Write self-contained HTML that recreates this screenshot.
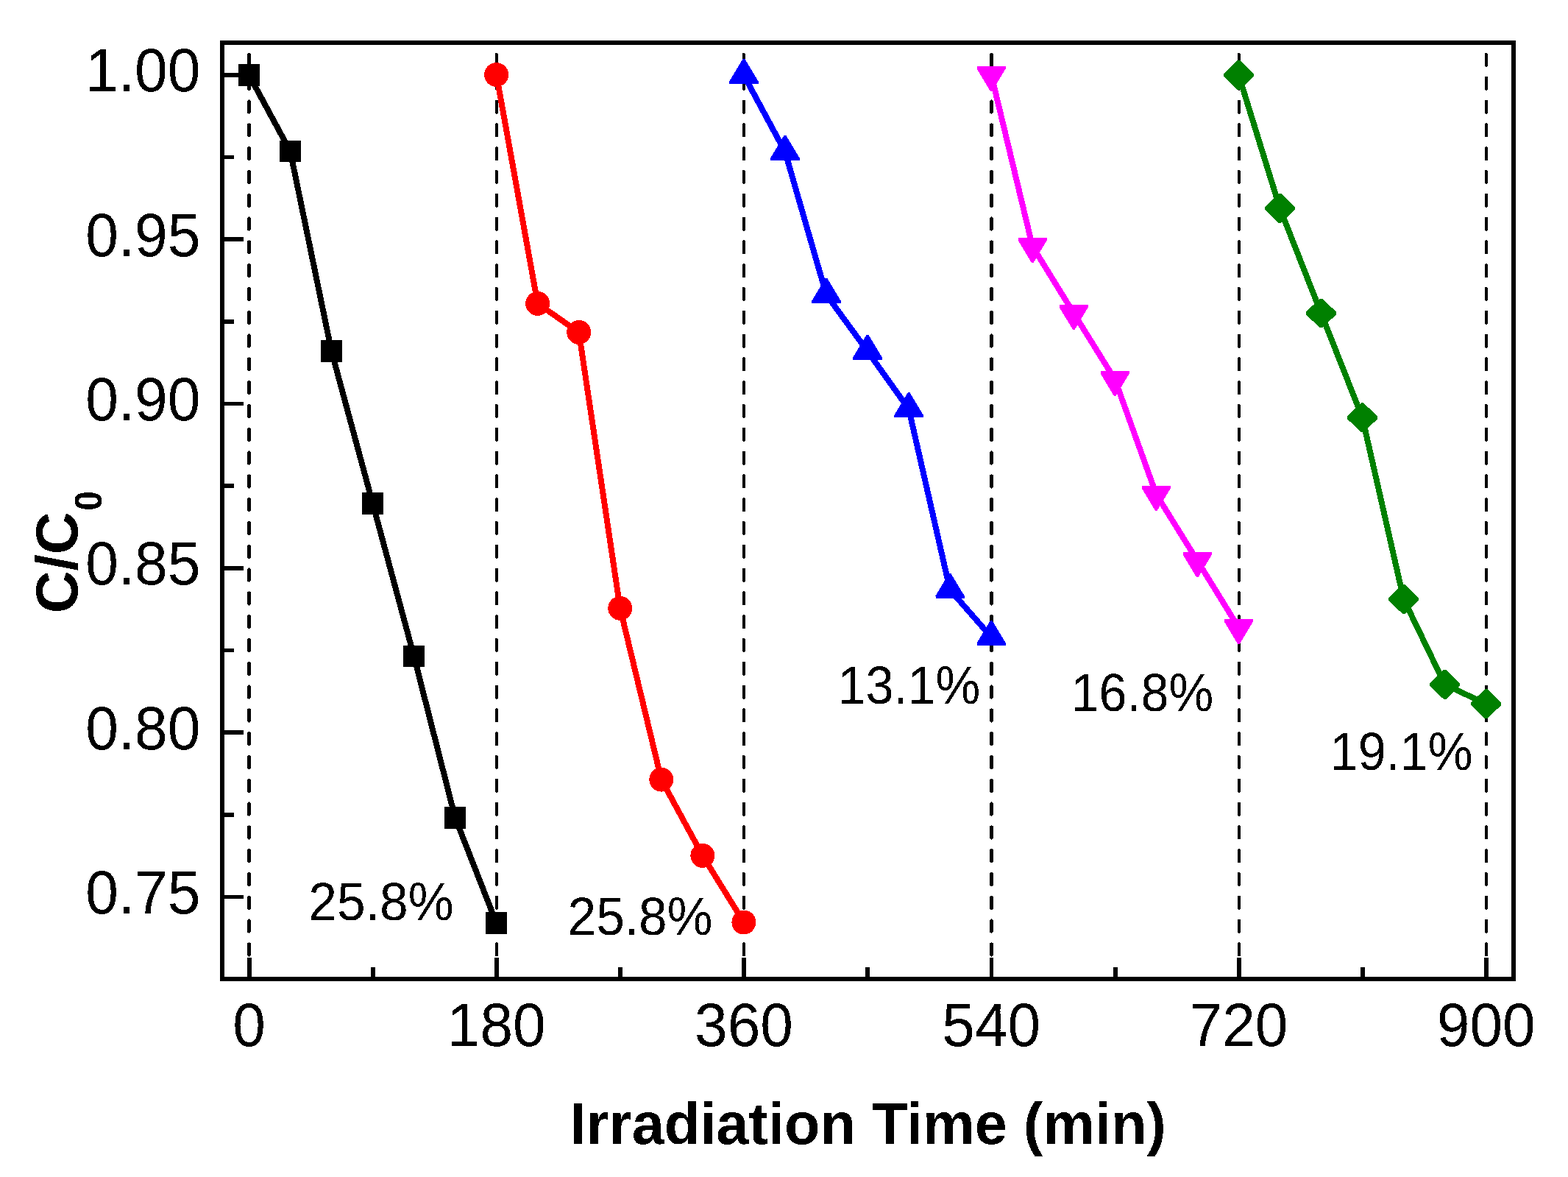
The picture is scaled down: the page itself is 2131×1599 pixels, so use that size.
<!DOCTYPE html>
<html><head><meta charset="utf-8"><title>C/C0 vs Irradiation Time</title>
<style>html,body{margin:0;padding:0;background:#fff;overflow:hidden;}svg{display:block;}text{font-family:"Liberation Sans",Arial,sans-serif;fill:#000;}</style></head><body>
<svg width="2131" height="1599" viewBox="0 0 2131 1599">
<rect x="0" y="0" width="2131" height="1599" fill="#fff"/>
<defs><filter id="bin" x="0" y="0" width="100%" height="100%" filterUnits="userSpaceOnUse" color-interpolation-filters="sRGB"><feComponentTransfer><feFuncA type="discrete" tableValues="0 1"/></feComponentTransfer></filter></defs>
<g shape-rendering="crispEdges">
<g stroke="#000" stroke-linecap="round" fill="none">
<line x1="338.50" y1="74.20" x2="338.50" y2="1329.90" stroke-width="4.8" stroke-dasharray="14.50 17.30"/>
<line x1="675.00" y1="73.70" x2="675.00" y2="1329.90" stroke-width="3.8" stroke-dasharray="15.50 16.30"/>
<line x1="1011.00" y1="73.70" x2="1011.00" y2="1329.90" stroke-width="3.8" stroke-dasharray="15.50 16.30"/>
<line x1="1347.50" y1="74.20" x2="1347.50" y2="1329.90" stroke-width="4.8" stroke-dasharray="14.50 17.30"/>
<line x1="1684.00" y1="73.70" x2="1684.00" y2="1329.90" stroke-width="3.8" stroke-dasharray="15.50 16.30"/>
<line x1="2020.00" y1="73.70" x2="2020.00" y2="1329.90" stroke-width="3.8" stroke-dasharray="15.50 16.30"/>
</g>
<g stroke="#000" stroke-width="5.8" fill="none">
<line x1="302.00" y1="101.90" x2="331.00" y2="101.90"/>
<line x1="302.00" y1="213.55" x2="318.00" y2="213.55"/>
<line x1="302.00" y1="325.20" x2="331.00" y2="325.20"/>
<line x1="302.00" y1="436.85" x2="318.00" y2="436.85"/>
<line x1="302.00" y1="548.50" x2="331.00" y2="548.50"/>
<line x1="302.00" y1="660.15" x2="318.00" y2="660.15"/>
<line x1="302.00" y1="771.80" x2="331.00" y2="771.80"/>
<line x1="302.00" y1="883.45" x2="318.00" y2="883.45"/>
<line x1="302.00" y1="995.10" x2="331.00" y2="995.10"/>
<line x1="302.00" y1="1106.75" x2="318.00" y2="1106.75"/>
<line x1="302.00" y1="1218.40" x2="331.00" y2="1218.40"/>
<line x1="338.75" y1="1329.90" x2="338.75" y2="1300.90"/>
<line x1="506.88" y1="1329.90" x2="506.88" y2="1313.90"/>
<line x1="675.00" y1="1329.90" x2="675.00" y2="1300.90"/>
<line x1="843.12" y1="1329.90" x2="843.12" y2="1313.90"/>
<line x1="1011.25" y1="1329.90" x2="1011.25" y2="1300.90"/>
<line x1="1179.38" y1="1329.90" x2="1179.38" y2="1313.90"/>
<line x1="1347.50" y1="1329.90" x2="1347.50" y2="1300.90"/>
<line x1="1515.62" y1="1329.90" x2="1515.62" y2="1313.90"/>
<line x1="1683.75" y1="1329.90" x2="1683.75" y2="1300.90"/>
<line x1="1851.88" y1="1329.90" x2="1851.88" y2="1313.90"/>
<line x1="2020.00" y1="1329.90" x2="2020.00" y2="1300.90"/>
</g>
<polyline fill="none" stroke="#000000" stroke-width="8.0" stroke-linejoin="round" points="338.40,101.90 394.44,205.40 450.48,477.00 506.52,683.90 562.57,891.50 618.61,1111.00 674.65,1254.00"/>
<rect x="323.65" y="87.15" width="29.5" height="29.5" fill="#000000"/>
<rect x="379.69" y="190.65" width="29.5" height="29.5" fill="#000000"/>
<rect x="435.73" y="462.25" width="29.5" height="29.5" fill="#000000"/>
<rect x="491.77" y="669.15" width="29.5" height="29.5" fill="#000000"/>
<rect x="547.82" y="876.75" width="29.5" height="29.5" fill="#000000"/>
<rect x="603.86" y="1096.25" width="29.5" height="29.5" fill="#000000"/>
<rect x="659.90" y="1239.25" width="29.5" height="29.5" fill="#000000"/>
<polyline fill="none" stroke="#ff0000" stroke-width="8.0" stroke-linejoin="round" points="674.65,101.50 730.69,412.40 786.73,451.40 842.77,826.30 898.82,1059.10 954.86,1162.40 1010.90,1253.00"/>
<circle cx="674.65" cy="101.50" r="16.5" fill="#ff0000"/>
<circle cx="730.69" cy="412.40" r="16.5" fill="#ff0000"/>
<circle cx="786.73" cy="451.40" r="16.5" fill="#ff0000"/>
<circle cx="842.77" cy="826.30" r="16.5" fill="#ff0000"/>
<circle cx="898.82" cy="1059.10" r="16.5" fill="#ff0000"/>
<circle cx="954.86" cy="1162.40" r="16.5" fill="#ff0000"/>
<circle cx="1010.90" cy="1253.00" r="16.5" fill="#ff0000"/>
<polyline fill="none" stroke="#0000ff" stroke-width="8.0" stroke-linejoin="round" points="1010.90,102.10 1066.94,206.20 1122.98,400.30 1179.03,477.20 1235.07,555.60 1291.11,801.40 1347.15,865.40"/>
<polygon points="1009.50,79.90 1012.30,79.90 1030.50,110.20 1030.50,113.60 991.30,113.60 991.30,110.20" fill="#0000ff"/>
<polygon points="1065.54,184.00 1068.34,184.00 1086.54,214.30 1086.54,217.70 1047.34,217.70 1047.34,214.30" fill="#0000ff"/>
<polygon points="1121.58,378.10 1124.38,378.10 1142.58,408.40 1142.58,411.80 1103.38,411.80 1103.38,408.40" fill="#0000ff"/>
<polygon points="1177.62,455.00 1180.43,455.00 1198.62,485.30 1198.62,488.70 1159.43,488.70 1159.43,485.30" fill="#0000ff"/>
<polygon points="1233.67,533.40 1236.47,533.40 1254.67,563.70 1254.67,567.10 1215.47,567.10 1215.47,563.70" fill="#0000ff"/>
<polygon points="1289.71,779.20 1292.51,779.20 1310.71,809.50 1310.71,812.90 1271.51,812.90 1271.51,809.50" fill="#0000ff"/>
<polygon points="1345.75,843.20 1348.55,843.20 1366.75,873.50 1366.75,876.90 1327.55,876.90 1327.55,873.50" fill="#0000ff"/>
<polyline fill="none" stroke="#ff00ff" stroke-width="8.0" stroke-linejoin="round" points="1347.15,101.40 1403.19,334.60 1459.23,425.50 1515.28,515.60 1571.32,671.50 1627.36,761.80 1683.40,852.70"/>
<polygon points="1345.75,123.60 1348.55,123.60 1366.75,93.30 1366.75,89.90 1327.55,89.90 1327.55,93.30" fill="#ff00ff"/>
<polygon points="1401.79,356.80 1404.59,356.80 1422.79,326.50 1422.79,323.10 1383.59,323.10 1383.59,326.50" fill="#ff00ff"/>
<polygon points="1457.83,447.70 1460.63,447.70 1478.83,417.40 1478.83,414.00 1439.63,414.00 1439.63,417.40" fill="#ff00ff"/>
<polygon points="1513.88,537.80 1516.68,537.80 1534.88,507.50 1534.88,504.10 1495.68,504.10 1495.68,507.50" fill="#ff00ff"/>
<polygon points="1569.92,693.70 1572.72,693.70 1590.92,663.40 1590.92,660.00 1551.72,660.00 1551.72,663.40" fill="#ff00ff"/>
<polygon points="1625.96,784.00 1628.76,784.00 1646.96,753.70 1646.96,750.30 1607.76,750.30 1607.76,753.70" fill="#ff00ff"/>
<polygon points="1682.00,874.90 1684.80,874.90 1703.00,844.60 1703.00,841.20 1663.80,841.20 1663.80,844.60" fill="#ff00ff"/>
<polyline fill="none" stroke="#008000" stroke-width="8.0" stroke-linejoin="round" points="1683.40,101.90 1739.44,282.90 1795.48,425.50 1851.53,567.40 1907.57,813.80 1963.61,929.90 2019.65,956.30"/>
<polygon points="1681.70,81.95 1685.10,81.95 1703.95,100.20 1703.95,103.60 1685.10,121.85 1681.70,121.85 1662.85,103.60 1662.85,100.20" fill="#008000"/>
<polygon points="1737.74,262.95 1741.14,262.95 1759.99,281.20 1759.99,284.60 1741.14,302.85 1737.74,302.85 1718.89,284.60 1718.89,281.20" fill="#008000"/>
<polygon points="1793.78,405.55 1797.18,405.55 1816.03,423.80 1816.03,427.20 1797.18,445.45 1793.78,445.45 1774.93,427.20 1774.93,423.80" fill="#008000"/>
<polygon points="1849.83,547.45 1853.23,547.45 1872.08,565.70 1872.08,569.10 1853.23,587.35 1849.83,587.35 1830.98,569.10 1830.98,565.70" fill="#008000"/>
<polygon points="1905.87,793.85 1909.27,793.85 1928.12,812.10 1928.12,815.50 1909.27,833.75 1905.87,833.75 1887.02,815.50 1887.02,812.10" fill="#008000"/>
<polygon points="1961.91,909.95 1965.31,909.95 1984.16,928.20 1984.16,931.60 1965.31,949.85 1961.91,949.85 1943.06,931.60 1943.06,928.20" fill="#008000"/>
<polygon points="2017.95,936.35 2021.35,936.35 2040.20,954.60 2040.20,958.00 2021.35,976.25 2017.95,976.25 1999.10,958.00 1999.10,954.60" fill="#008000"/>
<rect x="302.0" y="57.9" width="1755.00" height="1272.00" fill="none" stroke="#000" stroke-width="6.0"/>
</g>
<g filter="url(#bin)">
<text transform="translate(272.39,124.44) scale(0.9972,1.0289)" font-size="80.5" text-anchor="end">1.00</text>
<text transform="translate(272.39,347.74) scale(0.9972,1.0289)" font-size="80.5" text-anchor="end">0.95</text>
<text transform="translate(272.39,571.04) scale(0.9972,1.0289)" font-size="80.5" text-anchor="end">0.90</text>
<text transform="translate(272.39,794.34) scale(0.9972,1.0289)" font-size="80.5" text-anchor="end">0.85</text>
<text transform="translate(272.39,1017.64) scale(0.9972,1.0289)" font-size="80.5" text-anchor="end">0.80</text>
<text transform="translate(272.39,1240.94) scale(0.9972,1.0289)" font-size="80.5" text-anchor="end">0.75</text>
<text transform="translate(338.50,1420.80) scale(0.9968,1.0323)" font-size="80.5" text-anchor="middle">0</text>
<text transform="translate(674.75,1420.80) scale(0.9968,1.0323)" font-size="80.5" text-anchor="middle">180</text>
<text transform="translate(1011.00,1420.80) scale(0.9968,1.0323)" font-size="80.5" text-anchor="middle">360</text>
<text transform="translate(1347.25,1420.80) scale(0.9968,1.0323)" font-size="80.5" text-anchor="middle">540</text>
<text transform="translate(1683.50,1420.80) scale(0.9968,1.0323)" font-size="80.5" text-anchor="middle">720</text>
<text transform="translate(2019.75,1420.80) scale(0.9968,1.0323)" font-size="80.5" text-anchor="middle">900</text>
<text transform="translate(419.35,1250.04) scale(1.0019,1.0515)" font-size="69.4">25.8%</text>
<text transform="translate(771.50,1270.04) scale(1.0011,1.0515)" font-size="69.4">25.8%</text>
<text transform="translate(1138.58,956.17) scale(0.9847,1.0476)" font-size="69.4">13.1%</text>
<text transform="translate(1455.52,966.20) scale(0.9839,1.0484)" font-size="69.4">16.8%</text>
<text transform="translate(1807.78,1046.25) scale(0.9851,1.0492)" font-size="69.4">19.1%</text>
<text transform="translate(774.81,1553.90) scale(0.9986,1.0000)" font-size="79.5" font-weight="bold">Irradiation Time (min)</text>
<text transform="translate(105.05,833.29) rotate(-90) scale(1.0015,0.9976)" font-size="80.0" font-weight="bold">C/C</text>
<text transform="translate(138.16,693.69) rotate(-90) scale(0.9853,1.0426)" font-size="49.0" font-weight="bold">0</text>
</g>
</svg></body></html>
